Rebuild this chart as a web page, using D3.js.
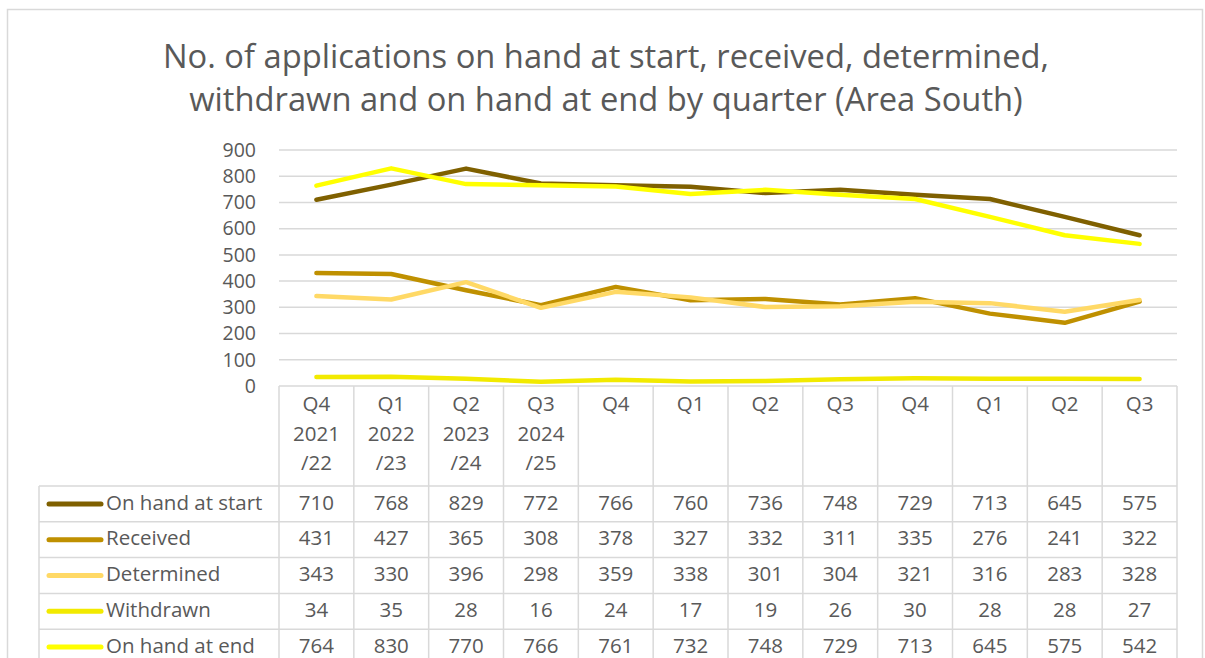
<!DOCTYPE html>
<html>
<head>
<meta charset="utf-8">
<script src="https://cdn.jsdelivr.net/npm/d3@7"></script>
<style>
  body { margin: 0; background: #fff; }
  text { font-family: "Open Sans", Lato, sans-serif; fill: #595959; }
</style>
</head>
<body>
<script>
// quarters and financial years (only the first four columns carry a year)
const quarters = ["Q4", "Q1", "Q2", "Q3", "Q4", "Q1", "Q2", "Q3", "Q4", "Q1", "Q2", "Q3"];
const years = [["2021", "/22"], ["2022", "/23"], ["2023", "/24"], ["2024", "/25"], [], [], [], [], [], [], [], []];
const yTicks = [0, 100, 200, 300, 400, 500, 600, 700, 800, 900];

const seriesNames = ["On hand at start", "Received", "Determined", "Withdrawn", "On hand at end"];
const onHandStart = [710, 768, 829, 772, 766, 760, 736, 748, 729, 713, 645, 575];
const received = [431, 427, 365, 308, 378, 327, 332, 311, 335, 276, 241, 322];
const determined = [343, 330, 396, 298, 359, 338, 301, 304, 321, 316, 283, 328];
const withdrawn = [34, 35, 28, 16, 24, 17, 19, 26, 30, 28, 28, 27];
const onHandEnd = [764, 830, 770, 766, 761, 732, 748, 729, 713, 645, 575, 542];

const colors = ["#7f6000", "#bf9000", "#ffd966", "#f2ea00", "#ffff00"];
const series = [onHandStart, received, determined, withdrawn, onHandEnd].map((values, i) => ({
  name: seriesNames[i], values, color: colors[i]
}));

const width = 1205, height = 658;
const svg = d3.select("body").append("svg")
  .attr("width", width)
  .attr("height", height);

// chart frame
svg.append("rect")
  .attr("x", 7.5).attr("y", 9.5)
  .attr("width", 1195).attr("height", 700)
  .attr("fill", "none")
  .attr("stroke", "#d9d9d9")
  .attr("stroke-width", 1.5);

// title
const title = svg.append("text")
  .attr("text-anchor", "middle")
  .style("font-size", "32.7px");
title.append("tspan").attr("x", 606).attr("y", 68)
  .text("No. of applications on hand at start, received, determined,");
title.append("tspan").attr("x", 606).attr("y", 111)
  .text("withdrawn and on hand at end by quarter (Area South)");

const plotLeft = 279, plotRight = 1177;
const xScale = d3.scaleBand()
  .domain(d3.range(quarters.length))
  .range([plotLeft, plotRight]);

const yScale = d3.scaleLinear()
  .domain([0, 900])
  .range([386, 150]);

// gridlines
svg.append("g")
  .selectAll("line")
  .data(yTicks.slice(1))
  .enter()
  .append("line")
  .attr("x1", plotLeft).attr("x2", plotRight)
  .attr("y1", d => yScale(d)).attr("y2", d => yScale(d))
  .attr("stroke", "#d9d9d9")
  .attr("stroke-width", 1.5);

// y axis labels
const yAxis = d3.axisLeft(yScale)
  .tickValues(yTicks)
  .tickSize(0)
  .tickPadding(0);
svg.append("g")
  .attr("transform", "translate(256,0)")
  .call(yAxis)
  .call(g => g.select(".domain").remove())
  .selectAll("text")
  .style("font-size", "19.5px")
  .style("font-family", "'Open Sans', sans-serif")
  .attr("fill", "#595959");

// lines
const line = d3.line()
  .x((d, i) => xScale(i) + xScale.bandwidth() / 2)
  .y(d => yScale(d));

svg.append("g")
  .selectAll("path")
  .data(series)
  .enter()
  .append("path")
  .attr("d", d => line(d.values))
  .attr("fill", "none")
  .attr("stroke", d => d.color)
  .attr("stroke-width", 4.5)
  .attr("stroke-linejoin", "round")
  .attr("stroke-linecap", "round");

// data table
const headerTop = 386, headerBottom = 486, rowH = 35.8;
const tableLeft = 39;
const tableBottom = headerBottom + rowH * series.length;
const table = svg.append("g");
const gridStroke = "#d9d9d9";
const fontSize = "20.5px";

// horizontal lines
table.append("line")
  .attr("x1", plotLeft).attr("x2", plotRight)
  .attr("y1", headerTop).attr("y2", headerTop)
  .attr("stroke", gridStroke).attr("stroke-width", 1.5);
table.selectAll(".hrow")
  .data(d3.range(series.length + 1))
  .enter()
  .append("line")
  .attr("x1", tableLeft).attr("x2", plotRight)
  .attr("y1", i => headerBottom + i * rowH)
  .attr("y2", i => headerBottom + i * rowH)
  .attr("stroke", gridStroke).attr("stroke-width", 1.5);

// vertical lines
table.selectAll(".vcol")
  .data(d3.range(quarters.length + 1))
  .enter()
  .append("line")
  .attr("x1", i => plotLeft + i * xScale.bandwidth())
  .attr("x2", i => plotLeft + i * xScale.bandwidth())
  .attr("y1", headerTop).attr("y2", tableBottom)
  .attr("stroke", gridStroke).attr("stroke-width", 1.5);
table.append("line")
  .attr("x1", tableLeft).attr("x2", tableLeft)
  .attr("y1", headerBottom).attr("y2", tableBottom)
  .attr("stroke", gridStroke).attr("stroke-width", 1.5);

// header labels
const header = table.selectAll(".hdr")
  .data(quarters)
  .enter()
  .append("text")
  .attr("text-anchor", "middle")
  .style("font-size", fontSize);
header.append("tspan")
  .attr("x", (d, i) => xScale(i) + xScale.bandwidth() / 2)
  .attr("y", 411)
  .text(d => d);
header.each(function (d, i) {
  years[i].forEach((t, j) => {
    d3.select(this).append("tspan")
      .attr("x", xScale(i) + xScale.bandwidth() / 2)
      .attr("y", 441 + j * 29)
      .text(t);
  });
});

// rows
series.forEach((s, r) => {
  const yMid = headerBottom + r * rowH + rowH / 2;
  table.append("line")
    .attr("x1", 49).attr("x2", 101)
    .attr("y1", yMid).attr("y2", yMid)
    .attr("stroke", s.color)
    .attr("stroke-width", 5)
    .attr("stroke-linecap", "round");
  table.append("text")
    .attr("x", 106).attr("y", yMid - 1.5)
    .attr("dy", "0.35em")
    .style("font-size", fontSize)
    .text(s.name);
  table.selectAll(null)
    .data(s.values)
    .enter()
    .append("text")
    .attr("x", (d, i) => xScale(i) + xScale.bandwidth() / 2)
    .attr("y", yMid - 1.5)
    .attr("dy", "0.35em")
    .attr("text-anchor", "middle")
    .style("font-size", fontSize)
    .text(d => d);
});
</script>
</body>
</html>
